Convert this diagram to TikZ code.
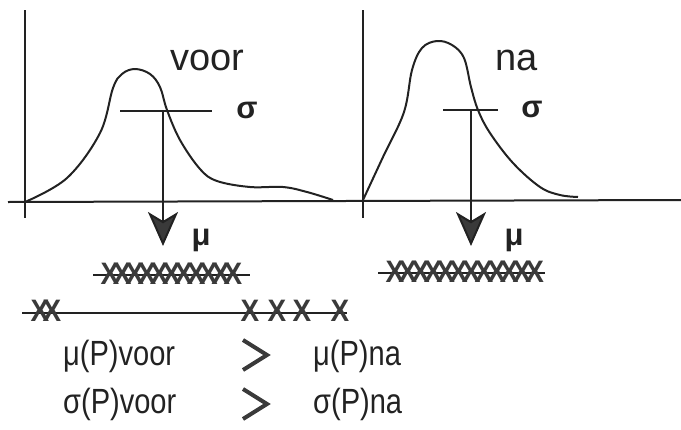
\documentclass[tikz,border=0pt]{standalone}
\usepackage{fontspec}
\setmainfont{Liberation Sans}
\usetikzlibrary{arrows.meta}
\definecolor{ink}{HTML}{222222}
\definecolor{headgray}{HTML}{3A3A3A}
\tikzset{
  axisline/.style={draw=ink, line width=2pt},
  curveline/.style={draw=ink, line width=2pt, line join=round},
  bigword/.style={inner sep=0pt, anchor=base west, font=\fontsize{38}{40}\selectfont, text=ink},
  greek/.style={inner sep=0pt, font=\bfseries\fontsize{31}{32}\selectfont, text=ink},
  xmark/.style={inner sep=0pt, font=\bfseries\fontsize{31}{31}\selectfont, text=headgray, xscale=0.9},
  relword/.style={inner sep=0pt, anchor=base west, font=\fontsize{35}{37}\selectfont, text=ink, xscale=0.83},
  meanarrow/.style={draw=ink, line width=2pt, -{Stealth[length=34pt,width=30pt,inset=9pt,fill=headgray]}},
  gtsign/.style={draw=headgray, line width=4pt, line join=miter}
}
\begin{document}
\begin{tikzpicture}[x=1pt,y=-1pt]
\useasboundingbox (0,0) rectangle (681,429);
% axes
\coordinate (axL) at (8,202);
\coordinate (axR) at (681,200);
\draw[axisline] (axL) -- (axR);
\coordinate (yl1) at (25,10); \coordinate (yl2) at (25,218);
\draw[axisline] (yl1) -- (yl2);
\coordinate (yr1) at (363,10); \coordinate (yr2) at (363,218);
\draw[axisline] (yr1) -- (yr2);
% left curve (voor)
\draw[curveline] plot[smooth, tension=0.6] coordinates {(25,202) (67,178) (100,133) (113,88) (122,74) (135,69) (150,74) (160,87) (167,110) (180,140) (200,169) (217,181) (250,187) (283,187) (307,192) (333,200)};
% right curve (na)
\draw[curveline] plot[smooth, tension=0.6] coordinates {(363,200) (383,157) (404,112) (412,70) (422,48) (437,41) (452,45) (464,58) (471,87) (478,110) (490,133) (513,163) (540,187) (560,195) (578,197)};
% sigma bars and mean arrows
\coordinate (sl1) at (120,111); \coordinate (sl2) at (212,111);
\draw[axisline] (sl1) -- (sl2);
\coordinate (ml) at (163,111); \coordinate (mlt) at (163,246);
\draw[meanarrow] (ml) -- (mlt);
\coordinate (sr1) at (443,110); \coordinate (sr2) at (498,110);
\draw[axisline] (sr1) -- (sr2);
\coordinate (mr) at (471,110); \coordinate (mrt) at (471,246);
\draw[meanarrow] (mr) -- (mrt);
% labels
\node[bigword] (voor) at (170,70) {voor};
\node[bigword] (na) at (495,70) {na};
\node[greek] (sigl) at (247,110) {σ};
\node[greek] (sigr) at (532,109) {σ};
\node[greek] (mul) at (201,240) {μ};
\node[greek] (mur) at (514,240) {μ};
% X rows
\coordinate (r1a) at (93,275); \coordinate (r1b) at (250,275);
\draw[axisline] (r1a) -- (r1b);
\foreach \i in {0,...,10} {\node[xmark] (xa\i) at (110+12.3*\i,274) {X};}
\coordinate (r2a) at (378,273); \coordinate (r2b) at (545,273);
\draw[axisline] (r2a) -- (r2b);
\foreach \i in {0,...,11} {\node[xmark] (xb\i) at (395+12.7*\i,272) {X};}
\coordinate (r3a) at (22,313); \coordinate (r3b) at (347,313);
\draw[axisline] (r3a) -- (r3b);
\foreach \p [count=\i] in {40,52,250,277,302,340} {\node[xmark] (xc\i) at (\p,311) {X};}
% relations
\node[relword] (m1) at (63,365) {μ(P)voor};
\node[relword] (m2) at (313,365) {μ(P)na};
\node[relword] (s1) at (63,413) {σ(P)voor};
\node[relword] (s2) at (313,413) {σ(P)na};
\coordinate (g1a) at (243,340); \coordinate (g1b) at (267,355); \coordinate (g1c) at (243,370);
\draw[gtsign] (g1a) -- (g1b) -- (g1c);
\coordinate (g2a) at (243,389); \coordinate (g2b) at (267,404); \coordinate (g2c) at (243,419);
\draw[gtsign] (g2a) -- (g2b) -- (g2c);
\end{tikzpicture}
\end{document}
